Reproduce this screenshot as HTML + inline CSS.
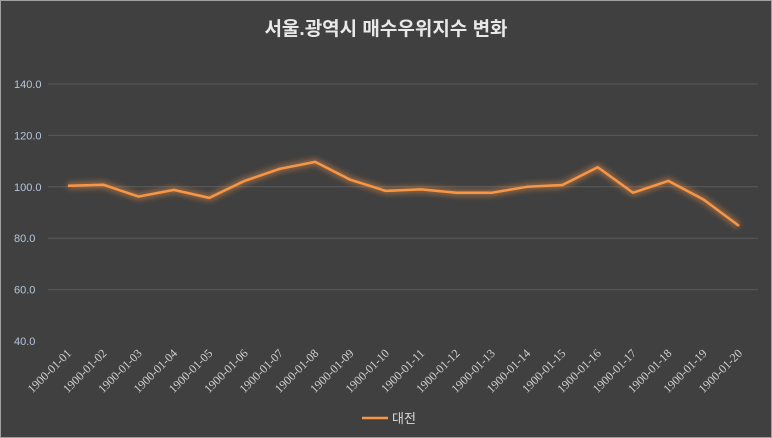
<!DOCTYPE html>
<html><head><meta charset="utf-8"><style>
body{margin:0;background:#404040;}
svg{display:block;}
</style></head><body>
<svg width="772" height="438" xmlns="http://www.w3.org/2000/svg">
<defs><filter id="glow" x="-10%" y="-50%" width="120%" height="200%"><feGaussianBlur stdDeviation="3"/></filter></defs>
<rect x="0.5" y="0.5" width="771" height="437" fill="#404040" stroke="#a0a0a0"/>
<text x="386" y="35" text-anchor="middle" fill="#e8e8e8" font-size="19" font-weight="bold" font-family="'Liberation Sans','Noto Sans CJK KR',sans-serif">서울.광역시 매수우위지수 변화</text>
<g id="grid"></g><g id="ylabels"></g><g id="xlabels"></g><g id="series"></g>
<g>
<line x1="362" y1="418" x2="388" y2="418" stroke="#f79646" stroke-width="2.5"/>
<text x="392" y="423" fill="#d9d9d9" font-size="13" font-family="'Liberation Sans','Noto Sans CJK KR',sans-serif">대전</text>
</g>
</svg>
<script>
const categories=["1900-01-01","1900-01-02","1900-01-03","1900-01-04","1900-01-05","1900-01-06","1900-01-07","1900-01-08","1900-01-09","1900-01-10","1900-01-11","1900-01-12","1900-01-13","1900-01-14","1900-01-15","1900-01-16","1900-01-17","1900-01-18","1900-01-19","1900-01-20"];
const values=[100.4,100.8,96.2,98.8,95.7,102.3,107,109.7,102.7,98.4,99,97.7,97.7,100,100.7,107.6,97.7,102.3,95,84.8];
const yTicks=[40,60,80,100,120,140];
const NS="http://www.w3.org/2000/svg";
const x=i=>68+i*(739-68)/(categories.length-1);
const y=v=>341-(v-40)*(341-84)/100;
function mk(t,a,p){const e=document.createElementNS(NS,t);for(const k in a)e.setAttribute(k,a[k]);p.appendChild(e);return e;}
const grid=document.getElementById('grid'),yl=document.getElementById('ylabels'),xl=document.getElementById('xlabels'),se=document.getElementById('series');
yTicks.forEach(t=>{
 if(t>40){const g=mk('line',{x1:48,x2:758,y1:y(t),y2:y(t),stroke:'#5a5a5a','stroke-width':1},grid);
 
 }
 const l=mk('text',{x:14,y:y(t)+4,fill:'#b4c6dc','font-size':11,'font-family':'Liberation Sans,sans-serif'},yl);
 l.textContent=t.toFixed(1);
 
 
});
categories.forEach((c,i)=>{
 const l=mk('text',{x:x(i)+4,y:354,fill:'#d0d0d0','font-size':12,'text-anchor':'end','font-family':'Liberation Serif,serif',transform:`rotate(-45 ${x(i)+4} 354)`},xl);
 l.textContent=c;
 
 
});
const pts=values.map((v,i)=>x(i)+','+y(v)).join(' ');
const g=mk('polyline',{points:pts,fill:'none',stroke:'#f79646','stroke-width':6,'stroke-opacity':0.5,filter:'url(#glow)'},se);


const p=mk('polyline',{points:pts,fill:'none',stroke:'#f79646','stroke-width':2.5,'stroke-linejoin':'round'},se);


</script>
</body></html>
